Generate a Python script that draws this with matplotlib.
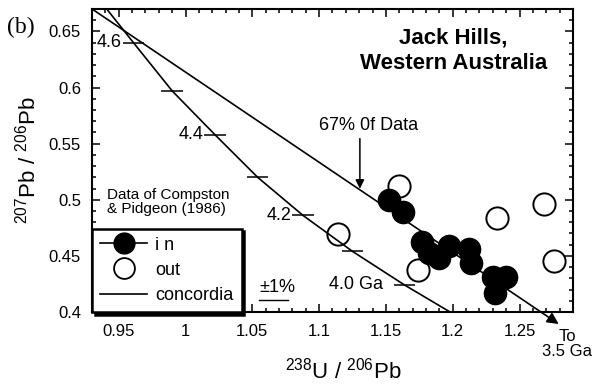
import matplotlib
matplotlib.use("Agg")
import matplotlib.pyplot as plt
from matplotlib.lines import Line2D
from matplotlib.ticker import MultipleLocator

plt.rcParams['font.family'] = ['Liberation Sans', 'DejaVu Sans']
plt.rcParams['mathtext.default'] = 'regular'

# zircon analyses, 238U/206Pb vs 207Pb/206Pb
in_x = [1.152, 1.163, 1.177, 1.182, 1.190, 1.197, 1.212, 1.214, 1.230, 1.240, 1.232]
in_y = [0.500, 0.489, 0.4625, 0.453, 0.448, 0.459, 0.456, 0.444, 0.431, 0.431, 0.417]
out_x = [1.160, 1.174, 1.114, 1.2335, 1.268, 1.276]
out_y = [0.5125, 0.4375, 0.4696, 0.484, 0.4965, 0.4455]

# concordia curve and age marks (Ga)
conc_x = [0.941, 0.961, 0.990, 1.022, 1.054, 1.088, 1.125, 1.164, 1.198]
conc_y = [0.670, 0.640, 0.597, 0.558, 0.520, 0.486, 0.454, 0.424, 0.400]
age_x = [0.961, 0.990, 1.022, 1.054, 1.088, 1.125, 1.164]
age_y = [0.640, 0.597, 0.558, 0.520, 0.486, 0.454, 0.424]
age_lab = ['4.6', '', '4.4', '', '4.2', '', '4.0 Ga']

# reference line from the upper intercept towards 3.5 Ga
ref_start = (0.930, 0.670)
ref_end = (1.2793, 0.3893)

xticks = [0.95, 1.0, 1.05, 1.1, 1.15, 1.2, 1.25]
xticklabels = ['0.95', '1', '1.05', '1.1', '1.15', '1.2', '1.25']
yticks = [0.4, 0.45, 0.5, 0.55, 0.6, 0.65]
yticklabels = ['0.4', '0.45', '0.5', '0.55', '0.6', '0.65']

fig = plt.figure(figsize=(5.94, 3.84), dpi=100)
ax = fig.add_axes([0.1549, 0.1875, 0.8097, 0.7891])
ax.set_xlim(0.93, 1.29)
ax.set_ylim(0.40, 0.67)

ax.plot(conc_x, conc_y, color='k', lw=1.2, zorder=2)
hw = 0.008
ax.hlines(age_y, [v - hw for v in age_x], [v + hw for v in age_x], color='k', lw=1.1, zorder=2)
for x, y, s in zip(age_x, age_y, age_lab):
    if not s:
        continue
    if s.endswith('Ga'):
        ax.text(1.1071, y + 0.0005, s, ha='left', va='center', fontsize=13)
    else:
        ax.text(x - hw - 0.0005, y, s, ha='right', va='center', fontsize=13)

ax.annotate('', xy=ref_end, xytext=ref_start, annotation_clip=False,
            arrowprops=dict(arrowstyle='-|>', color='k', lw=1.2, mutation_scale=17,
                            shrinkA=0, shrinkB=0))

ax.plot(out_x, out_y, ls='none', marker='o', ms=16, mfc='none', mec='k', mew=1.4, zorder=3)
ax.plot(in_x, in_y, ls='none', marker='o', ms=16, mfc='k', mec='k', zorder=4)

# 67% annotation
ax.annotate('', xy=(1.1305, 0.5098), xytext=(1.1305, 0.5545),
            arrowprops=dict(arrowstyle='-|>', color='k', lw=1.1, mutation_scale=13,
                            shrinkA=0, shrinkB=0))
ax.text(1.1372, 0.5661, '67% 0f Data', ha='center', va='center', fontsize=13)

ax.text(1.2004, 0.633, 'Jack Hills,\nWestern Australia', ha='center', va='center',
        fontsize=16, fontweight='bold', linespacing=1.3)
ax.text(0.941, 0.4982, 'Data of Compston\n& Pidgeon (1986)', ha='left', va='center',
        fontsize=11, linespacing=1.05)

ax.text(1.0553, 0.4215, '±1%', ha='left', va='center', fontsize=13)
ax.plot([1.0553, 1.077], [0.4107, 0.4107], color='k', lw=1.0)

ax.text(1.2855, 0.3714, 'To\n3.5 Ga', ha='center', va='center', fontsize=12,
        linespacing=1.0, clip_on=False)

ax.set_xticks(xticks)
ax.set_xticklabels(xticklabels)
ax.set_yticks(yticks)
ax.set_yticklabels(yticklabels)
ax.xaxis.set_minor_locator(MultipleLocator(0.01))
ax.yaxis.set_minor_locator(MultipleLocator(0.01))
ax.tick_params(which='both', direction='in', top=True, right=True, width=1.1)
ax.tick_params(which='major', length=6, labelsize=12)
ax.tick_params(axis='x', which='major', pad=9)
ax.tick_params(axis='y', which='major', pad=8)
ax.tick_params(which='minor', length=3)
for sp in ax.spines.values():
    sp.set_linewidth(1.5)

handles = [
    Line2D([], [], color='k', marker='o', ms=15, lw=1.2, label='i n'),
    Line2D([], [], ls='none', marker='o', ms=15, mfc='none', mec='k', mew=1.3, label='out'),
    Line2D([], [], color='k', lw=1.2, label='concordia'),
]
leg = ax.legend(handles=handles, loc='lower left', bbox_to_anchor=(0, 0), borderaxespad=0,
                fontsize=13, fancybox=False, edgecolor='k', framealpha=1,
                shadow={'color': 'k', 'alpha': 1}, handlelength=2.6, handletextpad=0.45,
                labelspacing=0.45, borderpad=0.45, numpoints=1)
leg.get_frame().set_linewidth(1.8)

fig.text(343 / 594, 0.0156, r'$^{238}$U / $^{206}$Pb', ha='center', va='baseline', fontsize=16)
fig.text(28 / 594, 0.5833, r'$^{207}$Pb / $^{206}$Pb', ha='center', va='center',
         rotation=90, fontsize=16)
fig.text(0.0118, 0.9297, '(b)', ha='left', va='center', fontsize=17, family='Liberation Serif')

fig.savefig('out.png', dpi=100)
